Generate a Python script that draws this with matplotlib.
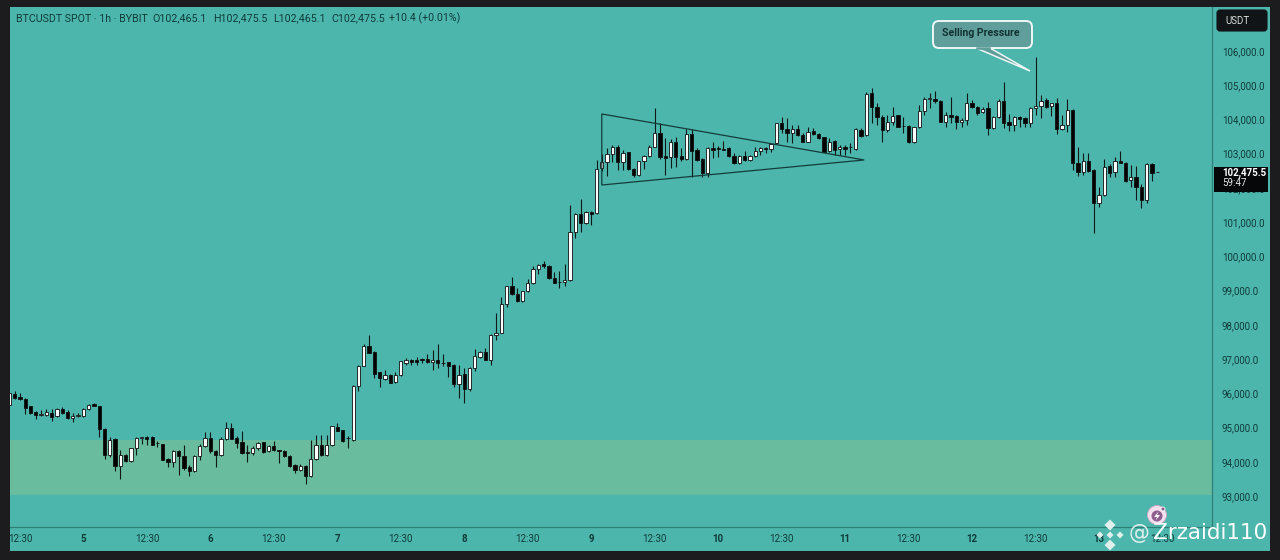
import matplotlib
matplotlib.use('Agg')
import matplotlib.pyplot as plt
from matplotlib.patches import Circle, FancyBboxPatch, Polygon, Rectangle
import numpy as np

# hourly candles
opens = [95660, 95975, 95890, 95840, 95615, 95440, 95380, 95370, 95420, 95340,
         95545, 95440, 95275, 95340, 95340, 95545, 95690, 95615, 94960, 94200,
         94670, 93880, 94205, 94010, 94390, 94680, 94720, 94720, 94555, 94515,
         94080, 93980, 94300, 94175, 93835, 93720, 94155, 94450, 94690, 94320,
         94185, 94660, 95000, 94690, 94565, 94290, 94270, 94400, 94565, 94300,
         94465, 94330, 94320, 94175, 93900, 93745, 93880, 93570, 94075, 94495,
         94185, 94475, 95010, 94915, 94690, 94650, 96200, 96800, 97370, 97210,
         96610, 96425, 96540, 96325, 96520, 96880, 96980, 96970, 96998, 96998,
         96920, 96980, 96890, 96900, 96830, 96270, 96560, 96120, 96735, 97055,
         97220, 96980, 97710, 97775, 98610, 99120, 98905, 98700, 98975, 99215,
         99625, 99770, 99730, 99360, 99265, 99255, 99315, 100705, 101230, 100968,
         101310, 101260, 102575, 102770, 102983, 103207, 102750, 103040, 102555, 102380,
         102780, 102945, 103187, 103596, 102935, 102915, 103333, 102935, 102847, 103577,
         103110, 102847, 102428, 103160, 103160, 103130, 103160, 102945, 102720, 102935,
         102818, 102935, 103090, 103168, 103130, 103304, 103888, 103713, 103596, 103723,
         103538, 103353, 103674, 103577, 103479, 103071, 103372, 103130, 103187, 103187,
         103130, 103693, 103547, 104764, 104375, 104083, 103694, 103937, 104122, 103821,
         103821, 103334, 103772, 104259, 104608, 104609, 104550, 103937, 104122, 104103,
         103928, 103986, 104473, 104375, 104210, 104327, 103743, 104064, 104550, 103927,
         103840, 104064, 104035, 103908, 104327, 104405, 104570, 104385, 104472, 103713,
         103830, 104278, 102741, 102478, 102799, 102526, 101573, 101797, 102643, 102458,
         102799, 102741, 102235, 102332, 102021, 101651, 102692, 102465.1]
highs = [96040, 96070, 96020, 95860, 95635, 95470, 95520, 95535, 95535, 95585,
         95595, 95520, 95420, 95420, 95565, 95690, 95710, 95635, 94980, 94720,
         94690, 94330, 94235, 94400, 94720, 94720, 94760, 94740, 94610, 94515,
         94105, 94330, 94330, 94475, 93910, 94205, 94515, 94855, 94855, 94330,
         94720, 95150, 95130, 94740, 94885, 94495, 94450, 94575, 94575, 94475,
         94595, 94350, 94330, 94195, 93930, 93940, 93910, 94640, 94790, 94790,
         94790, 95050, 95130, 94935, 94740, 96240, 96830, 97435, 97710, 97240,
         96630, 96685, 96570, 96620, 96950, 97025, 97005, 97060, 97018, 97155,
         97270, 97445, 97145, 96910, 96850, 96830, 96735, 96755, 97290, 97250,
         97320, 97730, 98360, 98810, 99140, 99410, 99070, 99000, 99345, 99720,
         99770, 99870, 99740, 99530, 99585, 99780, 101500, 101280, 101670, 101330,
         101330, 102818, 103000, 103160, 103255, 103255, 103110, 103060, 102575, 102800,
         102965, 103255, 104326, 103888, 103450, 103430, 103480, 103160, 103713, 103713,
         103160, 102867, 103187, 103333, 103226, 103382, 103187, 103012, 102965, 103081,
         102965, 103207, 103187, 103187, 103304, 103908, 104063, 104034, 103840, 103840,
         103596, 103771, 103742, 103616, 103499, 103450, 103401, 103255, 103255, 103304,
         103742, 103742, 104812, 104910, 104473, 104132, 104132, 104356, 104142, 104083,
         103840, 103791, 104424, 104648, 104764, 104842, 104570, 104229, 104648, 104132,
         104035, 104784, 104570, 104395, 104375, 104521, 104103, 104589, 105105, 104161,
         104103, 104103, 104064, 104375, 105815, 104716, 104618, 104492, 104618, 104132,
         104589, 104297, 103188, 103032, 103032, 102546, 102040, 102838, 102702, 102916,
         103091, 102760, 102673, 102654, 102118, 102721, 102721, 102475.5]
lows = [95620, 95830, 95810, 95400, 95390, 95245, 95340, 95340, 95205, 95320,
        95400, 95255, 95150, 95320, 95320, 95515, 95615, 94720, 94090, 94135,
        93720, 93495, 93990, 93990, 94205, 94515, 94485, 94475, 94420, 94040,
        93860, 93860, 93620, 93745, 93570, 93700, 94060, 94430, 94270, 93835,
        94175, 94640, 94660, 94400, 94235, 93980, 94185, 94330, 94270, 94280,
        94310, 93960, 94135, 93860, 93670, 93735, 93350, 93550, 94060, 94175,
        94175, 94465, 94885, 94590, 94400, 94600, 96055, 96785, 97170, 96445,
        96170, 96395, 96295, 96315, 96510, 96830, 96815, 96815, 96880, 96880,
        96685, 96735, 96785, 96490, 96170, 95860, 95730, 96055, 96640, 97025,
        96960, 96830, 97560, 97755, 98515, 98875, 98680, 98680, 98945, 99195,
        99490, 99655, 99340, 99215, 99070, 99140, 99295, 100530, 100725, 100950,
        100920, 101240, 102500, 102350, 102770, 102525, 102525, 102525, 102330, 102350,
        102555, 102915, 103187, 102847, 102380, 102575, 102623, 102800, 102818, 102312,
        102800, 102312, 102331, 102867, 102915, 103110, 102915, 102700, 102700, 102800,
        102800, 102915, 102965, 103012, 103041, 103285, 103616, 103353, 103324, 103518,
        103333, 103353, 103547, 103421, 103041, 103061, 102965, 102965, 102965, 103012,
        103110, 103499, 103528, 103889, 103840, 103354, 103645, 103840, 103772, 103616,
        103324, 103324, 103753, 104132, 104326, 104492, 103918, 103772, 103889, 103713,
        103791, 103840, 104327, 104132, 104181, 103548, 103723, 104035, 103743, 103675,
        103675, 103772, 103772, 103772, 104132, 104035, 104346, 104103, 103577, 103694,
        103645, 102527, 102351, 102381, 102478, 100697, 101437, 101768, 102332, 102313,
        102722, 102186, 102040, 101651, 101427, 101573, 102215, 102465.1]
closes = [96000, 95860, 95830, 95565, 95420, 95370, 95390, 95440, 95320, 95545,
          95420, 95275, 95350, 95355, 95535, 95670, 95615, 94950, 94200, 94640,
          93880, 94185, 94010, 94390, 94690, 94710, 94660, 94485, 94535, 94060,
          93980, 94300, 94175, 93815, 93720, 94155, 94450, 94690, 94300, 94185,
          94660, 95000, 94660, 94545, 94250, 94270, 94400, 94545, 94280, 94465,
          94330, 94320, 94175, 93880, 93745, 93890, 93570, 94095, 94495, 94185,
          94475, 95030, 94905, 94610, 94690, 96200, 96800, 97390, 97190, 96570,
          96445, 96540, 96315, 96520, 96940, 96980, 96920, 96920, 96960, 96920,
          96980, 96880, 96880, 96800, 96270, 96540, 96120, 96735, 97075, 97220,
          96980, 97710, 97775, 98610, 99120, 98905, 98700, 98975, 99215, 99625,
          99740, 99720, 99360, 99235, 99255, 99320, 100705, 101240, 100968, 101310,
          101240, 102545, 102770, 102983, 103207, 102750, 103030, 102545, 102380, 102780,
          102945, 103187, 103596, 102915, 102867, 103333, 102915, 102857, 103577, 103090,
          102818, 102428, 103160, 103110, 103150, 103120, 102935, 102720, 102945, 102818,
          102935, 103090, 103168, 103130, 103285, 103888, 103713, 103596, 103713, 103538,
          103353, 103645, 103577, 103450, 103061, 103353, 103110, 103187, 103139, 103187,
          103713, 103528, 104744, 104375, 104083, 103694, 103937, 104103, 103792, 103802,
          103334, 103772, 104259, 104589, 104618, 104531, 103937, 104122, 104083, 103937,
          103986, 104473, 104375, 104200, 104317, 103743, 104064, 104550, 103908, 103840,
          104064, 104025, 103908, 104327, 104405, 104550, 104375, 104472, 103713, 103830,
          104278, 102741, 102478, 102799, 102507, 101573, 101797, 102624, 102448, 102799,
          102741, 102206, 102332, 102021, 101651, 102692, 102429, 102475.5]

price_ticks = [93000, 94000, 95000, 96000, 97000, 98000, 99000, 100000, 101000,
               102000, 103000, 104000, 105000, 106000]
time_ticks = [2, 14, 26, 38, 50, 62, 74, 86, 98, 110, 122, 134, 146, 158, 170, 182, 194, 206, 218]
time_labels = ['12:30', '5', '12:30', '6', '12:30', '7', '12:30', '8', '12:30', '9',
               '12:30', '10', '12:30', '11', '12:30', '12', '12:30', '13', '12:30']
zone = (93029, 94636)
triangle = [(112.0, 104160), (161.6, 102816), (112.0, 102085)]

BG = '#4db6ac'
ZONE = '#69bc9e'
DARK = '#1c1c1e'
INK = '#0e3b3a'
W, H = 1280, 560


def box(left, top, right, bottom):
    return [left / W, 1 - bottom / H, (right - left) / W, (bottom - top) / H]


plt.rcParams['font.family'] = ['Roboto', 'DejaVu Sans']
fig = plt.figure(figsize=(12.8, 5.6), dpi=100, facecolor=DARK)

# whole pane behind the chart, price scale included
pane = fig.add_axes(box(10, 7, 1270, 551), facecolor=BG)
pane.set_xticks([])
pane.set_yticks([])
for s in pane.spines.values():
    s.set_visible(False)

ax = fig.add_axes(box(10, 7, 1212, 527), facecolor='none')
ax.set_xlim(0.13, 227.35)
ax.set_ylim(92094, 107285)
ax.axhspan(zone[0], zone[1], color=ZONE, lw=0, zorder=1)

x = np.arange(len(opens))
o = np.array(opens)
c = np.array(closes)
up = c >= o
ax.vlines(x, lows, highs, color='#101818', lw=0.8, zorder=2)
ax.bar(x, np.abs(c - o), bottom=np.minimum(o, c), width=0.62,
       color=np.where(up, '#ffffff', '#000000'), edgecolor='#101010', lw=0.6, zorder=3)

ax.add_patch(Polygon(triangle, closed=True, fill=False, ec='#123c3a', lw=0.9, zorder=4))

ax.yaxis.tick_right()
ax.set_yticks(price_ticks)
ax.set_yticklabels([f'{p:,.1f}' for p in price_ticks], fontsize=7, color=INK)
ax.set_xticks(time_ticks)
ax.set_xticklabels(time_labels, fontsize=7, color=INK)
for lab, txt in zip(ax.get_xticklabels(), time_labels):
    if txt != '12:30':
        lab.set_fontweight('bold')
ax.tick_params(axis='both', length=0)
ax.tick_params(axis='y', pad=7)
ax.tick_params(axis='x', pad=5)
for name, s in ax.spines.items():
    s.set_visible(name in ('right', 'bottom'))
    s.set_color('#2f7f79')
    s.set_linewidth(0.9)

# overlay in pixel coordinates for the TradingView chrome and watermark
top = fig.add_axes([0, 0, 1, 1], facecolor='none')
top.set_xlim(0, W)
top.set_ylim(H, 0)
top.axis('off')

top.text(16, 18.5, 'BTCUSDT SPOT · 1h · BYBIT', fontsize=7.7, color=INK, va='center')
for px, s in [(152, 'O102,465.1'), (213, 'H102,475.5'), (273, 'L102,465.1'), (331, 'C102,475.5'),
              (389, '+10.4 (+0.01%)')]:
    top.text(px, 18.5, s, fontsize=7.7, color=INK, va='center')

# USDT badge and last price tag
top.add_patch(FancyBboxPatch((1217, 10), 50, 21, boxstyle='round,pad=0,rounding_size=3', fc='#101416', ec='#101416', lw=0.8))
top.text(1238, 20.5, 'USDT', fontsize=7, color='#d8dcdc', ha='center', va='center')
top.add_patch(Rectangle((1214, 167), 54, 25, fc='#050708', ec='none'))
top.text(1222, 172.5, '102,475.5', fontsize=7, color='white', va='center', fontweight='bold')
top.text(1222, 183.5, '59:47', fontsize=7, color='#e8e8e8', va='center')

# callout
top.add_patch(FancyBboxPatch((933, 21), 99, 27, boxstyle='round,pad=0,rounding_size=6', fc='#5f9e9b', ec='#eef7f5', lw=1.4, zorder=5))
top.add_patch(Polygon([(976, 48), (1030, 71), (990, 48)], closed=True, fc='#5f9e9b', ec='#eef7f5', lw=1.1, zorder=6))
top.plot([977, 989], [48, 48], color='#5f9e9b', lw=1.8, zorder=7)
top.text(981, 33.5, 'Selling Pressure', fontsize=7.6, fontweight='bold', color='#123332', ha='center', va='center', zorder=8)

# watermark
top.add_patch(Circle((1157, 515), 9.5, fc='#f3dfee', ec='#c9a8c4', lw=0.6, zorder=9))
top.add_patch(Circle((1157, 516), 5.5, fc='#8d5f8f', ec='none', zorder=10))
top.add_patch(Polygon([(1158.5, 511.5), (1154, 517), (1157, 517), (1155.5, 520.5), (1160, 515), (1157, 515)], fc='white', ec='none', zorder=11))
top.add_patch(Circle((1163, 509), 2, fc='#8d5f8f', ec='white', lw=0.6, zorder=11))

wm = '#dff0ed'
for cx, cy, r in [(1110, 525, 5.5), (1110, 545, 5.5), (1100, 535, 3.5), (1120, 535, 3.5), (1110, 535, 3.5)]:
    top.add_patch(Polygon([(cx, cy - r), (cx + r, cy), (cx, cy + r), (cx - r, cy)], fc=wm, ec='none', zorder=9))
top.text(1129, 533, '@', fontsize=15, color=wm, family='DejaVu Sans', va='center', zorder=9)
top.text(1153, 533, 'Zrzaidi110', fontsize=15.5, color='white', family='DejaVu Sans', va='center', zorder=9)

fig.savefig('out.png', dpi=100, facecolor=fig.get_facecolor())
